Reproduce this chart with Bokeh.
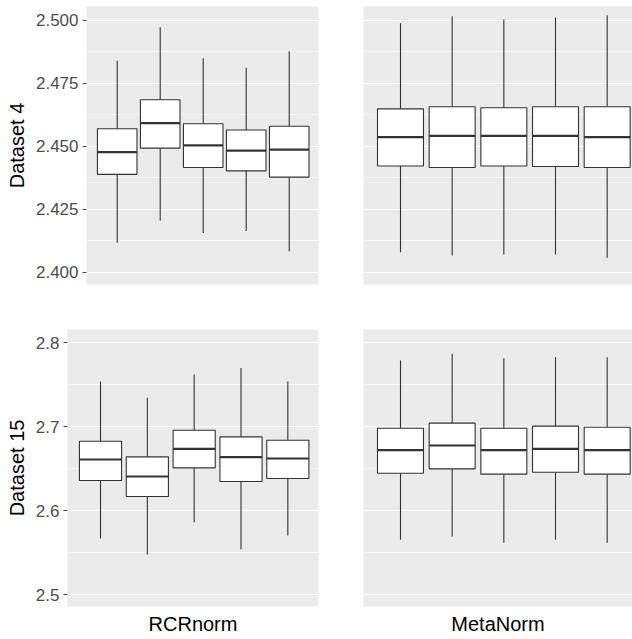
from bokeh.plotting import figure
from bokeh.layouts import column, row
from bokeh.models import ColumnDataSource, FixedTicker, PrintfTickFormatter, Range1d
from bokeh.embed import file_html
from bokeh.resources import INLINE

# ---------------- data ----------------
groups = [1, 2, 3, 4, 5]

# Dataset 4, RCRnorm
d4_rcr_low = [2.4117, 2.4205, 2.4155, 2.4163, 2.4083]
d4_rcr_q1 = [2.4388, 2.4492, 2.4415, 2.4402, 2.4377]
d4_rcr_med = [2.4476, 2.4591, 2.4503, 2.4482, 2.4486]
d4_rcr_q3 = [2.4569, 2.4684, 2.4589, 2.4564, 2.4579]
d4_rcr_high = [2.4840, 2.4972, 2.4849, 2.4811, 2.4876]

# Dataset 4, MetaNorm
d4_meta_low = [2.4079, 2.4066, 2.4070, 2.4070, 2.4057]
d4_meta_q1 = [2.4421, 2.4415, 2.4421, 2.4419, 2.4415]
d4_meta_med = [2.4536, 2.4541, 2.4541, 2.4541, 2.4536]
d4_meta_q3 = [2.4648, 2.4656, 2.4652, 2.4656, 2.4656]
d4_meta_high = [2.4988, 2.5015, 2.5002, 2.5010, 2.5019]

# Dataset 15, RCRnorm
d15_rcr_low = [2.5671, 2.5480, 2.5865, 2.5544, 2.5706]
d15_rcr_q1 = [2.6361, 2.6171, 2.6512, 2.6349, 2.6385]
d15_rcr_med = [2.6611, 2.6409, 2.6738, 2.6639, 2.6623]
d15_rcr_q3 = [2.6829, 2.6643, 2.6960, 2.6881, 2.6841]
d15_rcr_high = [2.7540, 2.7345, 2.7623, 2.7702, 2.7540]

# Dataset 15, MetaNorm
d15_meta_low = [2.5655, 2.5694, 2.5619, 2.5655, 2.5619]
d15_meta_q1 = [2.6448, 2.6500, 2.6437, 2.6460, 2.6437]
d15_meta_med = [2.6722, 2.6778, 2.6722, 2.6738, 2.6722]
d15_meta_q3 = [2.6984, 2.7044, 2.6984, 2.7008, 2.6996]
d15_meta_high = [2.7790, 2.7869, 2.7817, 2.7829, 2.7829]

row_labels = ["Dataset 4", "Dataset 15"]
col_labels = ["RCRnorm", "MetaNorm"]

d4_ticks = [2.400, 2.425, 2.450, 2.475, 2.500]
d4_minor = [2.3875, 2.4125, 2.4375, 2.4625, 2.4875, 2.5125]
d15_ticks = [2.5, 2.6, 2.7, 2.8]
d15_minor = [2.45, 2.55, 2.65, 2.75, 2.85]

PANEL_BG = "#EBEBEB"
LINE = "#333333"
TICK_COL = "#4D4D4D"
FONT = "Liberation Sans"


def make_panel(low, q1, med, q3, high, yr, xr, width, height, bl, br, bt, bb,
               ticks, minor, fmt, ylabel=None, xlabel=None, box_w=0.9):
    src = ColumnDataSource(dict(x=groups, low=low, q1=q1, med=med, q3=q3, high=high,
                                xl=[g - box_w / 2 for g in groups],
                                xr=[g + box_w / 2 for g in groups]))
    p = figure(width=width, height=height, output_backend="svg", toolbar_location=None,
               x_range=Range1d(*xr), y_range=Range1d(*yr),
               min_border_left=bl, min_border_right=br, min_border_top=bt, min_border_bottom=bb)
    p.background_fill_color = PANEL_BG
    p.border_fill_color = "white"
    p.outline_line_color = None
    p.xgrid.visible = False
    p.ygrid.ticker = FixedTicker(ticks=ticks, minor_ticks=minor)
    p.ygrid.grid_line_color = "white"
    p.ygrid.grid_line_width = 1.2
    p.ygrid.minor_grid_line_color = "white"
    p.ygrid.minor_grid_line_width = 0.6

    # whiskers
    p.segment(x0="x", y0="q3", x1="x", y1="high", source=src, line_color=LINE, line_width=1.1)
    p.segment(x0="x", y0="low", x1="x", y1="q1", source=src, line_color=LINE, line_width=1.1)
    # boxes
    p.vbar(x="x", width=box_w, top="q3", bottom="q1", source=src,
           fill_color="white", line_color=LINE, line_width=1.1)
    # medians
    p.segment(x0="xl", y0="med", x1="xr", y1="med", source=src, line_color=LINE, line_width=2.2)

    if ylabel is not None:
        ax = p.yaxis[0]
        ax.ticker = FixedTicker(ticks=ticks)
        ax.formatter = PrintfTickFormatter(format=fmt)
        ax.axis_line_color = None
        ax.major_tick_line_color = TICK_COL
        ax.major_tick_in = 0
        ax.major_tick_out = 4
        ax.minor_tick_line_color = None
        ax.major_label_text_font = FONT
        ax.major_label_text_font_size = "17px"
        ax.major_label_text_color = TICK_COL
        ax.major_label_standoff = 4
        ax.axis_label = ylabel
        ax.axis_label_text_font = FONT
        ax.axis_label_text_font_size = "20px"
        ax.axis_label_text_font_style = "normal"
        ax.axis_label_text_color = "black"
        ax.axis_label_standoff = 5
    else:
        p.yaxis.visible = False

    if xlabel is not None:
        ax = p.xaxis[0]
        ax.ticker = FixedTicker(ticks=[])
        ax.axis_line_color = None
        ax.major_tick_line_color = None
        ax.minor_tick_line_color = None
        ax.major_tick_out = 0
        ax.major_tick_in = 0
        ax.major_label_standoff = 0
        ax.axis_label = xlabel
        ax.axis_label_text_font = FONT
        ax.axis_label_text_font_size = "20px"
        ax.axis_label_text_font_style = "normal"
        ax.axis_label_text_color = "black"
        ax.axis_label_standoff = 6
    else:
        p.xaxis.visible = False
    return p


top_yr = (2.3951, 2.5054)
bot_yr = (2.4861, 2.8159)

p1 = make_panel(d4_rcr_low, d4_rcr_q1, d4_rcr_med, d4_rcr_q3, d4_rcr_high,
                top_yr, (0.286, 5.681), 340, 300, 86, 22, 6, 16,
                d4_ticks, d4_minor, "%.3f", ylabel=row_labels[0], box_w=0.92)
p2 = make_panel(d4_meta_low, d4_meta_q1, d4_meta_med, d4_meta_q3, d4_meta_high,
                top_yr, (0.284, 5.49), 292, 300, 23, 0, 6, 16,
                d4_ticks, d4_minor, "%.3f", box_w=0.89)
p3 = make_panel(d15_rcr_low, d15_rcr_q1, d15_rcr_med, d15_rcr_q3, d15_rcr_high,
                bot_yr, (0.295, 5.655), 340, 339, 67, 22, 29, 33,
                d15_ticks, d15_minor, "%.1f", ylabel=row_labels[1], xlabel=col_labels[0], box_w=0.9)
p4 = make_panel(d15_meta_low, d15_meta_q1, d15_meta_med, d15_meta_q3, d15_meta_high,
                bot_yr, (0.284, 5.49), 292, 339, 23, 0, 29, 33,
                d15_ticks, d15_minor, "%.1f", xlabel=col_labels[1], box_w=0.89)

layout = column(row(p1, p2, spacing=0), row(p3, p4, spacing=0), spacing=0)

open("out.html", "w").write(file_html(layout, INLINE))
